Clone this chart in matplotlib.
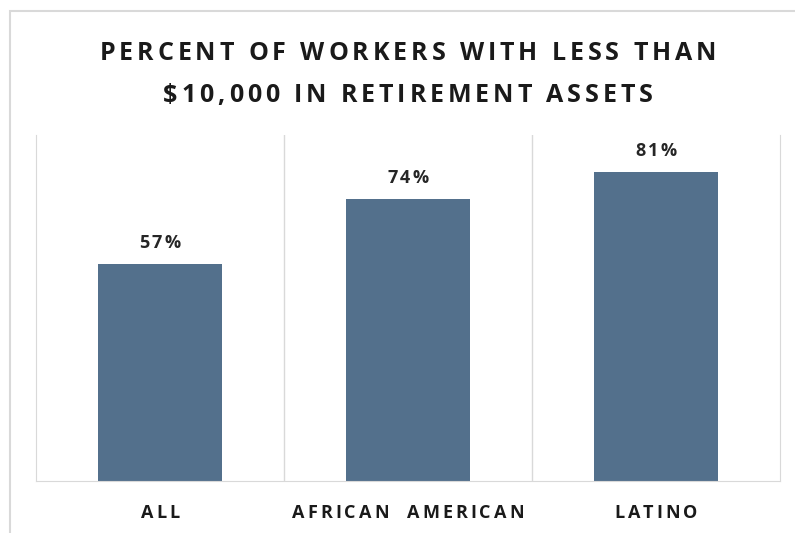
import matplotlib
matplotlib.use("Agg")
import matplotlib.pyplot as plt
from matplotlib.patches import Rectangle
from matplotlib.font_manager import FontProperties

# 데이터
groups = ["ALL", "AFRICAN  AMERICAN", "LATINO"]
shares = [57, 74, 81]
title_lines = ["PERCENT OF WORKERS WITH LESS THAN", "$10,000 IN RETIREMENT ASSETS"]

bar_color = "#53708c"
line_color = "#d9d9d9"
W, H = 795, 533

plt.rcParams["font.family"] = ["Open Sans", "DejaVu Sans"]

fig = plt.figure(figsize=(W / 100, H / 100), dpi=100)
renderer = fig.canvas.get_renderer()


def char_width(c, prop):
    # 공백은 폭이 0으로 나올 수 있어서 "a a" - "aa" 로 계산
    if c == " ":
        w1 = renderer.get_text_width_height_descent("a a", prop, ismath=False)[0]
        w2 = renderer.get_text_width_height_descent("aa", prop, ismath=False)[0]
        return w1 - w2
    return renderer.get_text_width_height_descent(c, prop, ismath=False)[0]


def spaced_text(cx, base_y, s, size, spacing, color):
    # 자간을 넓힌 글자: cx, base_y 는 픽셀 (base_y 는 위에서부터)
    prop = FontProperties(family=["Open Sans", "DejaVu Sans"], weight="bold", size=size)
    widths = [char_width(c, prop) for c in s]
    total = sum(widths) + spacing * (len(s) - 1)
    xpos = cx - total / 2
    for c, w in zip(s, widths):
        if c != " ":
            fig.text(xpos / W, 1 - base_y / H, c, ha="left", va="baseline",
                     fontproperties=prop, color=color)
        xpos += w + spacing


# 바깥 테두리
fig.patches.append(Rectangle((10 / W, -0.01), 1.0, 1 - 11 / H + 0.01,
                             transform=fig.transFigure, fill=False,
                             edgecolor=line_color, linewidth=1.5))

ax = fig.add_axes([36 / W, 52 / H, 744 / W, 346 / H])
x = list(range(len(groups)))
ax.bar(x, shares, width=0.5, color=bar_color)
ax.set_xlim(-0.5, 2.5)
ax.set_ylim(0, 90.8)

# 범주 구분선
for sep in [0.5, 1.5]:
    ax.axvline(sep, color=line_color, linewidth=1)

for side in ["left", "right", "bottom"]:
    ax.spines[side].set_color(line_color)
ax.spines["top"].set_visible(False)
ax.set_yticks([])
ax.set_xticks([])

# x축 라벨과 값 라벨
for i, (g, v) in enumerate(zip(groups, shares)):
    px, py = ax.transData.transform((i, v))
    spaced_text(px, H - py - 16, f"{v}%", 13, 2.5, "#262626")
    spaced_text(px, 518, g, 13, 3, "#1a1a1a")

# 제목
spaced_text(408, 60, title_lines[0], 18, 3.9, "#1a1a1a")
spaced_text(408, 102, title_lines[1], 18, 3.9, "#1a1a1a")

fig.savefig("out.png", dpi=100)
